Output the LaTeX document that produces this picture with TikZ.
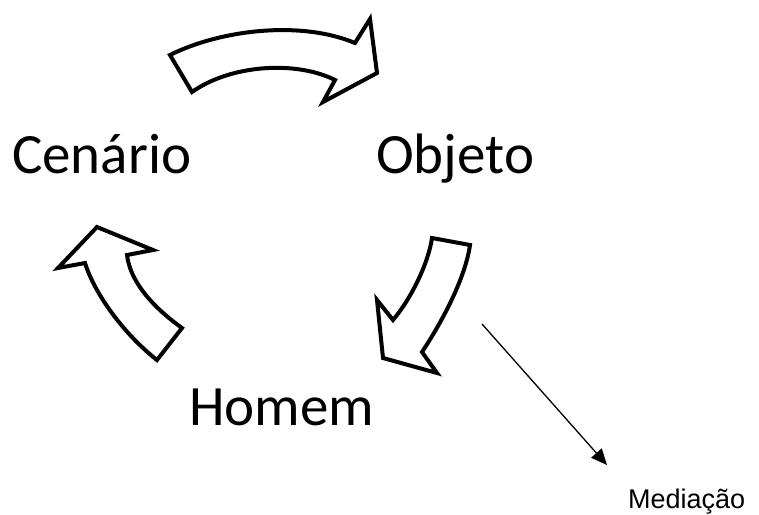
\documentclass[tikz,border=0pt]{standalone}
\usepackage{fontspec}
\setmainfont{Carlito}
\newfontfamily\arialfont{Liberation Sans}
\usetikzlibrary{arrows.meta}
\begin{document}
\begin{tikzpicture}[x=1pt,y=-1pt,
  bigarrow/.style={draw=black,line width=4pt,line join=miter,fill=white},
  bigtext/.style={inner sep=0pt,anchor=base west,font=\fontsize{57}{60}\selectfont},
  smalltext/.style={inner sep=0pt,anchor=base west,font=\arialfont\fontsize{27}{30}\selectfont},
  link/.style={draw=black,line width=1.3pt,-{Triangle[length=16pt,width=14pt]}}]
\useasboundingbox (0,0) rectangle (759,514);
% text
\node[bigtext] (cen) at (12,173) {Cenário};
\node[bigtext] (obj) at (376,173) {Objeto};
\node[bigtext] (hom) at (189,425) {Homem};
\node[smalltext] (med) at (628,508) {Mediação};
% top arrow
\draw[bigarrow] (170,55) .. controls (220,30) and (300,20) .. (355,43)
  -- (370,19) -- (377,73) -- (323,102) -- (335,80)
  .. controls (295,60) and (230,65) .. (192,92) -- cycle;
% left arrow
\draw[bigarrow] (97,227) -- (153,250) -- (127,255)
  .. controls (130,280) and (150,305) .. (182,328) -- (157,360)
  .. controls (125,335) and (95,295) .. (85,263) -- (58,268) -- cycle;
% down arrow
\draw[bigarrow] (432,238) -- (470,245)
  .. controls (465,280) and (440,325) .. (422,352) -- (437,373)
  -- (383,358) -- (377,300) -- (393,320)
  .. controls (410,300) and (428,265) .. (432,238) -- cycle;
% connector
\coordinate (ms) at (482,324);
\coordinate (mt) at (607,465);
\draw[link] (ms) -- (mt);
\end{tikzpicture}
\end{document}
